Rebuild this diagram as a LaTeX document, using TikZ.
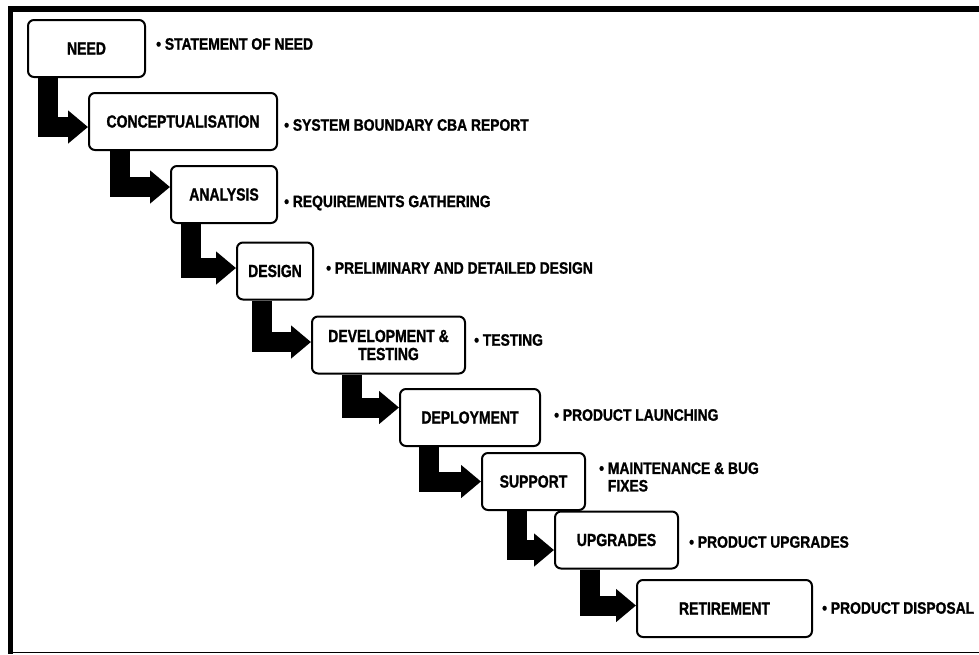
\documentclass[tikz,border=0pt]{standalone}
\usepackage{fontspec}
\setmainfont[FakeStretch=0.8,BoldFeatures={FakeBold=1.2}]{Liberation Sans}
\newfontfamily\notefont[FakeStretch=0.84,BoldFeatures={FakeBold=1.2}]{Liberation Sans}
\usetikzlibrary{arrows.meta}
\begin{document}
\begin{tikzpicture}[x=1pt,y=-1pt,
        stage/.style={draw,line width=2pt,rounded corners=6pt,fill=white,inner sep=0pt,
            minimum height=57pt,align=center,font=\bfseries\fontsize{17.5}{18}\selectfont},
        note/.style={anchor=west,inner sep=0pt,align=left,font=\notefont\bfseries\fontsize{16.5}{17.5}\selectfont},
        flow/.style={line width=20pt,-{Triangle[width=32pt,length=20pt]}}]
        \useasboundingbox (0,0) rectangle (979,654);
        % frame
        \fill (8,6) rectangle (979,12);
        \fill (8,6) rectangle (13,654);
        \draw[line width=1pt] (8,652.5) -- (979,652.5);
        % stages
        \node[stage,minimum width=117pt] (need) at (86.5,48.5) {NEED};
        \node[stage,minimum width=188pt] (concept) at (183,121.5) {CONCEPTUALISATION};
        \node[stage,minimum width=106pt] (analysis) at (224,194.5) {ANALYSIS};
        \node[stage,minimum width=76pt] (design) at (275,271) {DESIGN};
        \node[stage,minimum width=153pt] (devtest) at (388.5,345) {DEVELOPMENT \&\\TESTING};
        \node[stage,minimum width=140pt] (deploy) at (470,417.5) {DEPLOYMENT};
        \node[stage,minimum width=103pt] (support) at (533.5,481.5) {SUPPORT};
        \node[stage,minimum width=123pt] (upgrades) at (616.5,540) {UPGRADES};
        \node[stage,minimum width=175pt] (retire) at (724.5,608.5) {RETIREMENT};
        % arrows
        \draw[flow] ([xshift=21pt]need.south west) |- ([yshift=-5.5pt]concept.west);
        \draw[flow] ([xshift=32pt]concept.south west) |- ([yshift=7.5pt]analysis.west);
        \draw[flow] ([xshift=21pt]analysis.south west) |- ([yshift=3pt]design.west);
        \draw[flow] ([xshift=26pt]design.south west) |- ([yshift=3pt]devtest.west);
        \draw[flow] ([xshift=41pt]devtest.south west) |- ([yshift=10pt]deploy.west);
        \draw[flow] ([xshift=30pt]deploy.south west) |- (support.west);
        \draw[flow] ([xshift=36pt]support.south west) |- ([yshift=-10pt]upgrades.west);
        \draw[flow] ([xshift=36pt]upgrades.south west) |- ([yshift=3pt]retire.west);
        % text
        \node[note] (needtxt) at (156,44) {\textbullet{} STATEMENT OF NEED};
        \node[note] (concepttxt) at (284,125) {\textbullet{} SYSTEM BOUNDARY CBA REPORT};
        \node[note] (analysistxt) at (284,203) {\textbullet{} REQUIREMENTS GATHERING};
        \node[note] (designtxt) at (326,268) {\textbullet{} PRELIMINARY AND DETAILED DESIGN};
        \node[note] (devtesttxt) at (474,340) {\textbullet{} TESTING};
        \node[note] (deploytxt) at (554,415) {\textbullet{} PRODUCT LAUNCHING};
        \node[note] (supporttxt) at (599,477) {\textbullet{} MAINTENANCE \& BUG\\\phantom{\textbullet{} }FIXES};
        \node[note] (upgradestxt) at (689,542) {\textbullet{} PRODUCT UPGRADES};
        \node[note] (retiretxt) at (822,608) {\textbullet{} PRODUCT DISPOSAL};
\end{tikzpicture}
\end{document}
